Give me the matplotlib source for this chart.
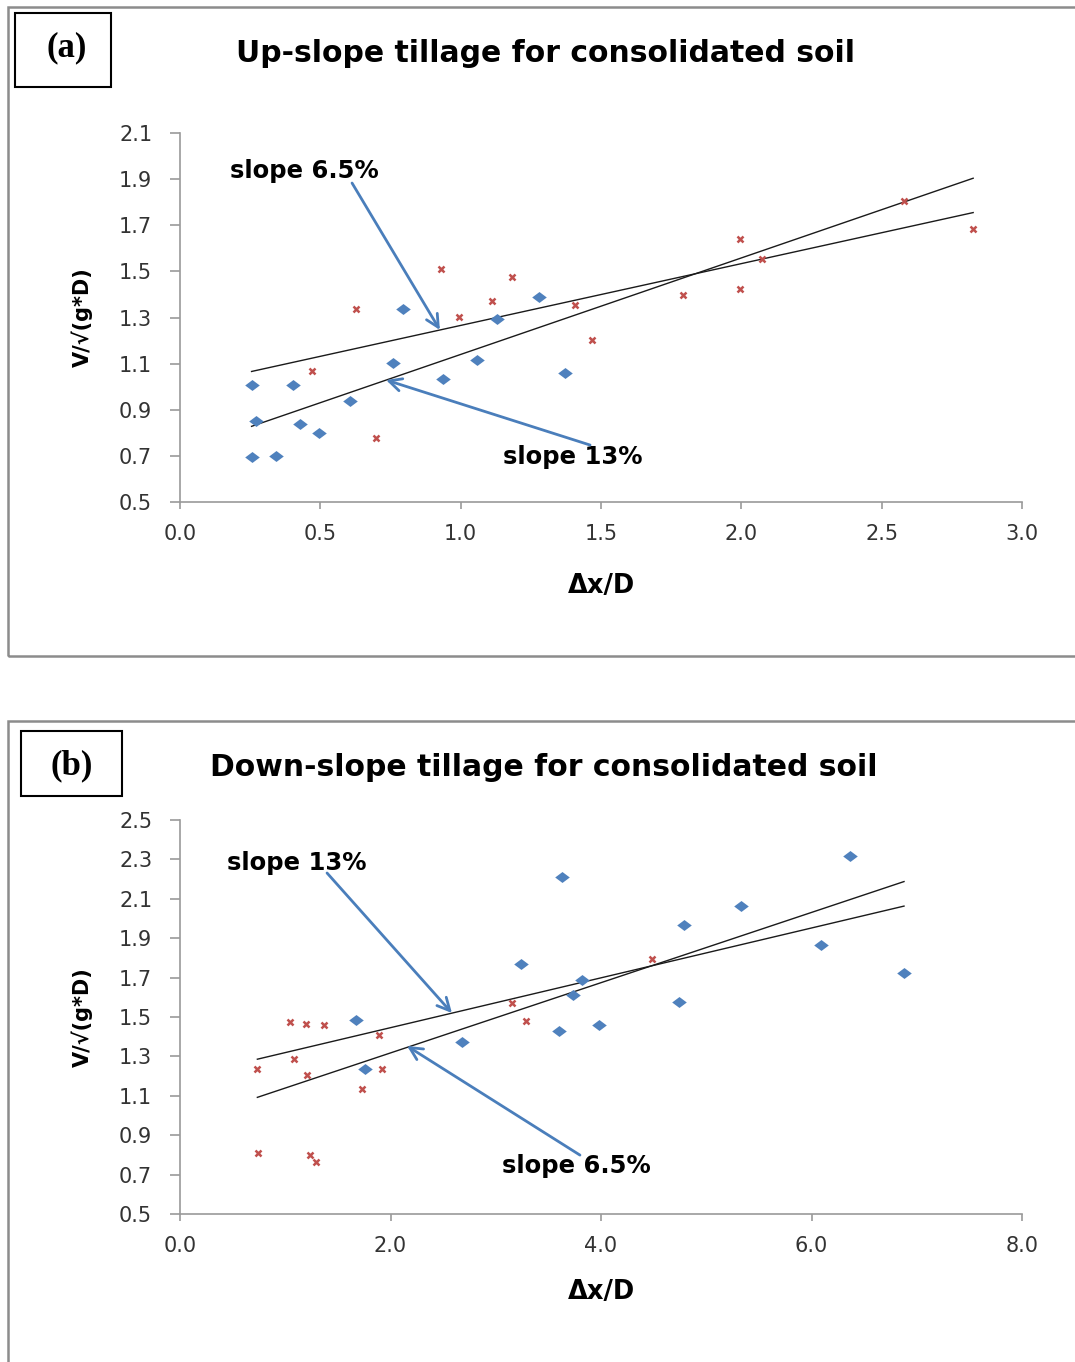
import numpy as np
import matplotlib
matplotlib.use("Agg")
import matplotlib.pyplot as plt
from matplotlib.patches import Rectangle

# ---------------- data ----------------
# Panel (a): Up-slope tillage
a_blue_x = [0.255, 0.404, 0.271, 0.428, 0.495, 0.255, 0.342, 0.606, 0.760, 0.796,
            0.938, 1.057, 1.128, 1.280, 1.372]
a_blue_y = [1.007, 1.007, 0.851, 0.837, 0.798, 0.696, 0.701, 0.939, 1.103, 1.336,
            1.033, 1.116, 1.292, 1.390, 1.061]
a_red_x = [0.627, 0.469, 0.698, 0.929, 0.994, 1.110, 1.183, 1.407, 1.469, 1.793,
           1.997, 1.997, 2.074, 2.579, 2.826]
a_red_y = [1.336, 1.069, 0.776, 1.509, 1.304, 1.373, 1.476, 1.354, 1.201, 1.396,
           1.639, 1.424, 1.552, 1.807, 1.685]

# Panel (b): Down-slope tillage
b_blue_x = [1.672, 1.755, 2.676, 3.237, 3.633, 3.604, 3.737, 3.823, 3.984, 4.744,
            4.789, 5.330, 6.090, 6.363, 6.879]
b_blue_y = [1.485, 1.236, 1.372, 1.768, 2.213, 1.430, 1.612, 1.688, 1.458, 1.576,
            1.967, 2.065, 1.865, 2.317, 1.723]
b_red_x = [1.045, 1.194, 1.371, 1.888, 1.086, 0.735, 1.207, 1.919, 1.726, 0.744,
           1.238, 1.292, 3.154, 3.290, 4.485]
b_red_y = [1.475, 1.465, 1.458, 1.409, 1.287, 1.236, 1.204, 1.236, 1.134, 0.808,
           0.798, 0.765, 1.569, 1.480, 1.794]

a_xticks = [0.0, 0.5, 1.0, 1.5, 2.0, 2.5, 3.0]
a_yticks = [0.5, 0.7, 0.9, 1.1, 1.3, 1.5, 1.7, 1.9, 2.1]
b_xticks = [0.0, 2.0, 4.0, 6.0, 8.0]
b_yticks = [0.5, 0.7, 0.9, 1.1, 1.3, 1.5, 1.7, 1.9, 2.1, 2.3, 2.5]

titles = ["Up-slope tillage for consolidated soil",
          "Down-slope tillage for consolidated soil"]
panel_tags = ["(a)", "(b)"]

# ---------------- figure ----------------
W, H = 1075, 1362
fig = plt.figure(figsize=(W / 100, H / 100), dpi=100)
fig.patch.set_facecolor("white")


def fx(px):
    return px / W


def fy(py):
    return 1 - py / H


BLUE = "#4F81BD"
RED = "#C0504D"
ARROW = "#4A7EBB"
AXIS_GRAY = "#9a9a9a"
TICK_COLOR = "#333333"
diamond = [(-1, 0), (0, 0.75), (1, 0), (0, -0.75), (-1, 0)]

# outer frames
fig.patches.append(Rectangle((fx(8), fy(656)), fx(1080) - fx(8), fy(7) - fy(656),
                             transform=fig.transFigure, fill=False,
                             edgecolor="#8c8c8c", lw=1.8))
fig.patches.append(Rectangle((fx(8), fy(1370)), fx(1080) - fx(8), fy(721) - fy(1370),
                             transform=fig.transFigure, fill=False,
                             edgecolor="#8c8c8c", lw=1.8))
# tag boxes
fig.patches.append(Rectangle((fx(15), fy(87)), fx(111) - fx(15), fy(13) - fy(87),
                             transform=fig.transFigure, fill=False,
                             edgecolor="black", lw=1.5))
fig.patches.append(Rectangle((fx(21), fy(796)), fx(122) - fx(21), fy(731) - fy(796),
                             transform=fig.transFigure, fill=False,
                             edgecolor="black", lw=1.5))
fig.text(fx(67), fy(48), panel_tags[0], family="Liberation Serif", weight="bold",
         fontsize=25, ha="center", va="center")
fig.text(fx(72), fy(766), panel_tags[1], family="Liberation Serif", weight="bold",
         fontsize=25, ha="center", va="center")

fig.text(fx(545), fy(53), titles[0], weight="bold", fontsize=21.5,
         ha="center", va="center")
fig.text(fx(544), fy(767), titles[1], weight="bold", fontsize=21.5,
         ha="center", va="center")

ax_a = fig.add_axes([fx(180), fy(502), fx(1022) - fx(180), fy(133) - fy(502)])
ax_b = fig.add_axes([fx(180), fy(1214), fx(1022) - fx(180), fy(820) - fy(1214)])


def style(ax, xlim, ylim, xticks, yticks, xfmt, xpad):
    ax.set_xlim(*xlim)
    ax.set_ylim(*ylim)
    ax.set_xticks(xticks)
    ax.set_yticks(yticks)
    ax.set_xticklabels([xfmt.format(v) for v in xticks])
    ax.set_yticklabels(["{:.1f}".format(v) for v in yticks])
    for s in ["top", "right"]:
        ax.spines[s].set_visible(False)
    for s in ["left", "bottom"]:
        ax.spines[s].set_color(AXIS_GRAY)
        ax.spines[s].set_linewidth(1.2)
    ax.tick_params(axis="y", direction="out", length=7, width=1.2, color=AXIS_GRAY,
                   labelsize=15, labelcolor=TICK_COLOR, pad=13)
    ax.tick_params(axis="x", direction="out", length=5, width=1.2, color=AXIS_GRAY,
                   labelsize=15, labelcolor=TICK_COLOR, pad=11)
    ax.patch.set_alpha(0)
    ax.set_xlabel("Δx/D", fontsize=18.5, weight="bold", labelpad=xpad)
    ax.set_ylabel("V/√(g*D)", fontsize=15, weight="bold", labelpad=19)


def draw(ax, bx, by, rx, ry):
    bx, by, rx, ry = map(np.asarray, (bx, by, rx, ry))
    xmin = min(bx.min(), rx.min())
    xmax = max(bx.max(), rx.max())
    xs = np.array([xmin, xmax])
    for x, y in ((bx, by), (rx, ry)):
        k, c = np.polyfit(x, y, 1)
        ax.plot(xs, k * xs + c, color="#1a1a1a", lw=1.0, zorder=2)
    ax.plot(bx, by, linestyle="none", marker=diamond, markersize=10.5,
            color=BLUE, markeredgewidth=0, zorder=3)
    ax.plot(rx, ry, linestyle="none", marker="x", markersize=4.5,
            markeredgewidth=1.8, color=RED, zorder=3)


def note(ax, text, tx, ty, tail, head):
    ax.text(tx, ty, text, fontsize=17.5, weight="bold", ha="center", va="center",
            zorder=5)
    ax.annotate("", xy=head, xytext=tail,
                arrowprops=dict(arrowstyle="->,head_length=0.9,head_width=0.45",
                                color=ARROW, lw=2.0, shrinkA=0, shrinkB=0),
                zorder=5)


style(ax_a, (0, 3), (0.5, 2.1), a_xticks, a_yticks, "{:.1f}", 21)
draw(ax_a, a_blue_x, a_blue_y, a_red_x, a_red_y)
note(ax_a, "slope 6.5%", 0.442, 1.935, (0.613, 1.883), (0.926, 1.246))
note(ax_a, "slope 13%", 1.400, 0.695, (1.461, 0.747), (0.734, 1.029))

style(ax_b, (0, 8), (0.5, 2.5), b_xticks, b_yticks, "{:.1f}", 16.5)
draw(ax_b, b_blue_x, b_blue_y, b_red_x, b_red_y)
note(ax_b, "slope 13%", 1.112, 2.282, (1.397, 2.231), (2.584, 1.520))
note(ax_b, "slope 6.5%", 3.763, 0.744, (3.800, 0.799), (2.157, 1.353))

fig.savefig("out.png", dpi=100)
